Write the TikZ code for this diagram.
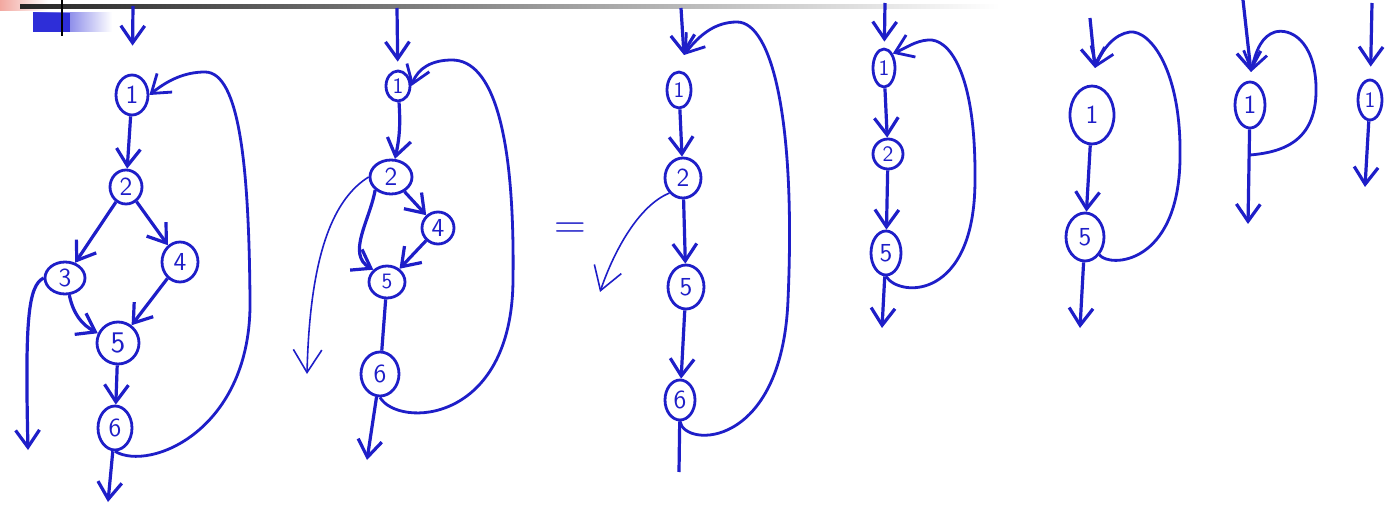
\documentclass[tikz,border=0pt]{standalone}
\usepackage{tikz}
\usetikzlibrary{arrows.meta,positioning,shapes.geometric,calc}
\definecolor{ink}{HTML}{1E1EC8}
\definecolor{slideblue}{HTML}{2E2ED8}
\definecolor{slidepink}{HTML}{F2A8A0}
\tikzset{
  >={Straight Barb[length=3mm,width=4.2mm]},
  % knoten
  cn/.style={ellipse,draw=ink,line width=1.4pt,inner sep=0pt,text=ink,
             minimum width=16pt,minimum height=18pt,
             font=\fontsize{13}{13}\selectfont\sffamily},
  sz/.style 2 args={minimum width=#1pt,minimum height=#2pt},
  % kanten
  ce/.style={->,draw=ink,line width=1.6pt},
  cl/.style={draw=ink,line width=1.6pt},
  bk/.style={->,draw=ink,line width=1.4pt},
  side/.style={-{Straight Barb[length=4mm,width=5mm]},draw=ink,line width=0.8pt},
}
\begin{document}
\begin{tikzpicture}[x=0.5pt,y=-0.5pt]
  \fill[white] (0,0) rectangle (1389,508);
  \useasboundingbox (0,0) rectangle (1389,508);
  % folienkopf
  \shade[left color=slidepink,right color=white] (0,0) rectangle (48,11);
  \shade[left color=slideblue,right color=white] (33,13) rectangle (112,32);
  \fill[slideblue] (33,13) rectangle (70,32);
  \shade[left color=black!85,right color=white] (20,5) rectangle (1000,9);
  \draw[black,line width=1.2pt] (62,0) -- (62,36);

  % graph a
  \node[cn,sz={16}{20}] (a1) at (132,95) {1};
  \node[cn,sz={16}{17}] (a2) at (126,187) {2};
  \node[cn,sz={20}{16}] (a3) at (65,278) {3};
  \node[cn,sz={18}{20}] (a4) at (180,262) {4};
  \node[cn,sz={21}{21},font=\fontsize{15}{15}\selectfont\sffamily] (a5) at (118,343) {5};
  \node[cn,sz={17}{22}] (a6) at (115,428) {6};
  \coordinate (a0) at (133,6);
  \coordinate (ax) at (108,502);
  \coordinate (ay) at (28,450);
  \draw[ce,shorten >=14pt] (a0) -- (a1);
  \draw[ce] (a1) -- (a2);
  \draw[ce] (a2) -- (a3);
  \draw[ce] (a2) -- (a4);
  \draw[ce] (a3) to[bend right=25] (a5);
  \draw[ce] (a4) -- (a5);
  \draw[ce] (a5) -- (a6);
  \draw[ce] (a6) -- (ax);
  \draw[ce] (a3.west) .. controls (28,286) and (25,320) .. (ay);
  \draw[bk] (a6.south) .. controls (150,472) and (252,430) .. (250,300)
    .. controls (249,170) and (240,72) .. (205,72)
    .. controls (185,72) and (168,80) .. (a1.east);

  % graph b
  \node[cn,sz={12}{15},font=\fontsize{11}{11}\selectfont\sffamily] (b1) at (398,86) {1};
  \node[cn,sz={21}{17}] (b2) at (391,177) {2};
  \node[cn,sz={16}{16}] (b4) at (438,228) {4};
  \node[cn,sz={18}{16},font=\fontsize{11}{11}\selectfont\sffamily] (b5) at (387,282) {5};
  \node[cn,sz={19}{22}] (b6) at (380,374) {6};
  \coordinate (b0) at (397,8);
  \coordinate (bx) at (367,460);
  \coordinate (by) at (307,374);
  \draw[ce,shorten >=4pt] (b0) -- (b1);
  \draw[ce] (b1) to[bend left=8] (b2);
  \draw[ce] (b2) -- (b4);
  \draw[ce] (b2.south west) to[out=-100,in=150] (b5.north west);
  \draw[ce] (b4) -- (b5);
  \draw[cl] (b5) -- (b6);
  \draw[ce] (b6) -- (bx);
  \draw[side] (b2.west) .. controls (335,198) and (310,250) .. (by);
  \draw[bk] (b6.south) .. controls (398,428) and (512,425) .. (513,280)
    .. controls (515,130) and (492,60) .. (452,60)
    .. controls (432,60) and (418,68) .. (b1.east);

  \node[text=ink,font=\fontsize{22}{22}\selectfont] (eq) at (570,231) {=};

  % graph c
  \node[cn,sz={12}{18},font=\fontsize{11}{11}\selectfont\sffamily] (c1) at (679,90) {1};
  \node[cn,sz={18}{20}] (c2) at (683,178) {2};
  \node[cn,sz={18}{22}] (c5) at (686,287) {5};
  \node[cn,sz={15}{20}] (c6) at (680,400) {6};
  \coordinate (c0) at (681,8);
  \coordinate (cj) at (684,55);
  \coordinate (cx) at (679,472);
  \coordinate (cy) at (600,292);
  \draw[ce] (c0) -- (cj);
  \draw[ce] (c1) -- (c2);
  \draw[ce] (c2) -- (c5);
  \draw[ce] (c5) -- (c6);
  \draw[cl] (c6) -- (cx);
  \draw[side] (c2.south west) .. controls (640,205) and (615,248) .. (cy);
  \draw[bk] (c6.south) .. controls (684,448) and (782,450) .. (788,300)
    .. controls (796,120) and (772,22) .. (737,22)
    .. controls (716,22) and (700,34) .. (cj);

  % graph d
  \node[cn,sz={11}{19},font=\fontsize{11}{11}\selectfont\sffamily] (d1) at (884,68) {1};
  \node[cn,sz={15}{15},font=\fontsize{11}{11}\selectfont\sffamily] (d2) at (888,154) {2};
  \node[cn,sz={15}{22}] (d5) at (886,253) {5};
  \coordinate (d0) at (885,3);
  \coordinate (dx) at (882,328);
  \draw[ce,shorten >=3pt] (d0) -- (d1);
  \draw[ce] (d1) -- (d2);
  \draw[ce] (d2) -- (d5);
  \draw[ce] (d5) -- (dx);
  \draw[bk] (d5.south) .. controls (900,298) and (975,300) .. (975,180)
    .. controls (976,70) and (948,38) .. (928,40)
    .. controls (915,41) and (906,48) .. (d1.north east);

  % graph e
  \node[cn,sz={22}{29}] (e1) at (1092,115) {1};
  \node[cn,sz={19}{24}] (e5) at (1085,237) {5};
  \coordinate (e0) at (1090,18);
  \coordinate (ej) at (1095,68);
  \coordinate (ex) at (1080,328);
  \draw[ce] (e0) -- (ej);
  \draw[ce] (e1) -- (e5);
  \draw[ce] (e5) -- (ex);
  \draw[bk] (e5.south east) .. controls (1110,268) and (1178,265) .. (1180,160)
    .. controls (1182,70) and (1150,30) .. (1130,32)
    .. controls (1115,34) and (1103,48) .. (ej);

  % graph f
  \node[cn,sz={15}{23}] (f1) at (1250,105) {1};
  \coordinate (f0) at (1243,0);
  \coordinate (fj) at (1251,72);
  \coordinate (fs) at (1250,155);
  \coordinate (fx) at (1248,224);
  \draw[ce] (f0) -- (fj);
  \draw[ce] (f1) -- (fx);
  \draw[bk] (fs) .. controls (1285,152) and (1318,140) .. (1316,85)
    .. controls (1314,40) and (1290,28) .. (1275,32)
    .. controls (1262,36) and (1256,50) .. (fj);

  % graph g
  \node[cn,sz={12}{20},font=\fontsize{11}{11}\selectfont\sffamily] (g1) at (1370,100) {1};
  \coordinate (g0) at (1372,3);
  \coordinate (gx) at (1365,187);
  \draw[ce,shorten >=6pt] (g0) -- (g1);
  \draw[ce] (g1) -- (gx);
\end{tikzpicture}
\end{document}
